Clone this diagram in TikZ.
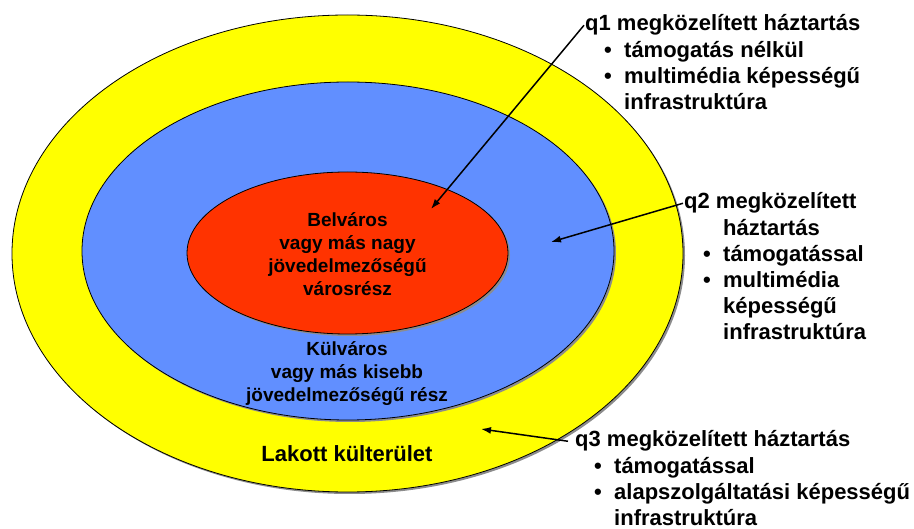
\documentclass[tikz,border=0pt]{standalone}
\usepackage{fontspec}
\setmainfont{Liberation Sans}
\usetikzlibrary{positioning, arrows.meta, shapes.geometric, shadows}

\definecolor{sarga}{RGB}{255,255,0}
\definecolor{kek}{RGB}{97,143,255}
\definecolor{piros}{RGB}{255,51,0}

\newcommand{\pont}{\makebox[20pt][l]{•}}
\newcommand{\behuz}{\hspace*{20pt}}

\begin{document}
\begin{tikzpicture}[
        x=1pt, y=-1pt,
        zona/.style={ellipse, draw, line width=0.8pt, inner sep=0pt, drop shadow={shadow xshift=2pt, shadow yshift=-2pt, fill=black!45, opacity=1}},
        belso/.style={align=center, font=\fontsize{19}{23}\selectfont\bfseries},
        fej/.style={inner sep=1pt, font=\fontsize{22}{26}\selectfont\bfseries},
        lista/.style={inner sep=0pt, align=left, font=\fontsize{22}{26}\selectfont\bfseries},
        nyil/.style={draw, line width=1.5pt, -{Latex[length=10pt, width=7pt]}}
    ]
    \useasboundingbox (0,0) rectangle (914,529);

    % Zónák
    \node (kulter) [zona, fill=sarga, minimum width=671pt, minimum height=477pt] at (347.5,253.5) {};
    \node (kulvaros) [zona, fill=kek, minimum width=532pt, minimum height=338pt] at (348,251) {};
    \node (belvaros) [zona, belso, fill=piros, minimum width=321pt, minimum height=162pt] at (347.5,253) {\strut Belváros\\vagy más nagy\\jövedelmezőségű\\városrész};

    \node (kulvszoveg) [belso, inner sep=0pt, anchor=north] at (347,339) {\strut Külváros\\vagy más kisebb\\jövedelmezőségű rész};
    \node (lakott) [fej, anchor=base] at (347,462) {Lakott külterület};

    % Megközelítések
    \node (q1fej) [fej, anchor=base west] at (584,31) {q1 megközelített háztartás};
    \node (q1lista) [lista, anchor=north west, xshift=20pt, yshift=-7.8pt] at (q1fej.base west) {\strut\pont támogatás nélkül\\\pont multimédia képességű\\\behuz infrastruktúra};

    \node (q2fej) [fej, anchor=base west] at (683,209) {q2 megközelített};
    \node (q2lista) [lista, anchor=north west, xshift=20pt, yshift=-7.8pt] at (q2fej.base west) {\strut\behuz háztartás\\\pont támogatással\\\pont multimédia\\\behuz képességű\\\behuz infrastruktúra};

    \node (q3fej) [fej, anchor=base west] at (574,447) {q3 megközelített háztartás};
    \node (q3lista) [lista, anchor=north west, xshift=20pt, yshift=-7.8pt] at (q3fej.base west) {\strut\pont támogatással\\\pont alapszolgáltatási képességű\\\behuz infrastruktúra};

    % Nyilak
    \coordinate (q1cel) at (431,209);
    \coordinate (q2cel) at (551,242);
    \coordinate (q3cel) at (481,429);
    \draw[nyil] (q1fej.west) -- (q1cel);
    \draw[nyil] (q2fej.west) -- (q2cel);
    \draw[nyil] ([xshift=-6pt]q3fej.west) -- (q3cel);

\end{tikzpicture}
\end{document}
